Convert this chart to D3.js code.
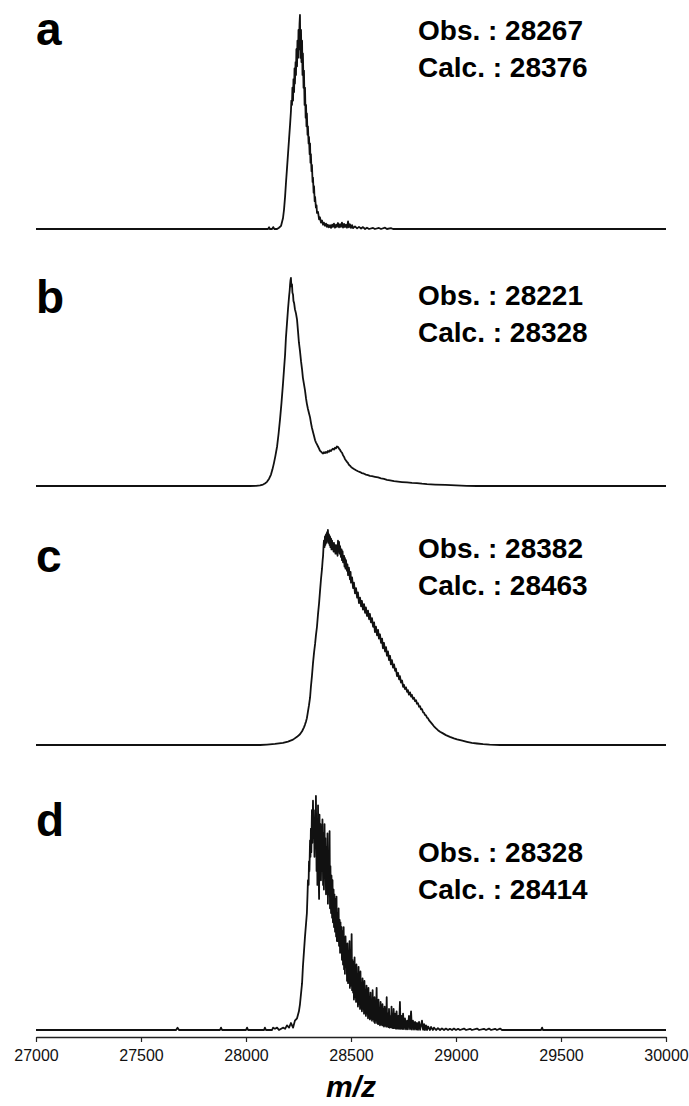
<!DOCTYPE html>
<html>
<head>
<meta charset="utf-8">
<script src="https://cdn.jsdelivr.net/npm/d3@7"></script>
<style>
body { margin: 0; background: #fff; }
text { font-family: "Liberation Sans", Arial, sans-serif; }
</style>
</head>
<body>
<div id="root"></div>
<script>
var width = 689;
var height = 1106;

// spectra: [m/z, relative intensity %]
var specA = [
[27000,0],[28105,0],[28110,0.8],[28114,0],[28124,0],[28130,0.9],[28135,0],[28148,0],[28157,0.6],[28167,1.5],
[28176,5],[28181,9],[28186,15],[28190,21],[28195,28],[28200,35],[28205,42],[28210,49],[28214,55],[28216,60],
[28219,58],[28221,66],[28224,60],[28226,70],[28229,64],[28231,75],[28233,68],[28236,78],[28238,72],[28240,84],
[28243,76],[28245,88],[28248,80],[28250,93],[28252,84],[28255,96],[28257,100],[28259,80],[28262,93],[28264,78],
[28267,88],[28269,72],[28271,82],[28274,66],[28276,74],[28279,58],[28281,66],[28284,52],[28286,58],[28288,48],
[28290,54],[28293,44],[28295,48],[28298,40],[28300,43],[28303,35],[28305,40],[28307,31],[28309,35],[28312,27],
[28314,30],[28317,22],[28319,24],[28322,17],[28324,20],[28327,13],[28329,15],[28333,10],[28336,11],[28338,7.5],
[28343,8],[28348,4.5],[28352,5.5],[28357,3],[28362,4],[28367,2],[28371,3],[28376,1.5],[28381,2.5],[28386,1],
[28390,2],[28395,0.8],[28400,1.8],[28405,0.5],[28410,2],[28414,1],[28419,2.5],[28424,0.6],[28429,2],[28433,1],
[28438,2.8],[28443,0.8],[28448,2.2],[28452,1],[28457,3],[28462,0.7],[28467,2.4],[28471,0.9],[28476,2],[28481,0.6],
[28486,3.5],[28490,0.8],[28495,2.2],[28500,0.5],[28505,1.8],[28510,0.4],[28519,1.2],[28529,0.3],[28538,1],[28548,0.2],
[28557,0.9],[28567,0],[28576,0.6],[28586,0],[28605,0.5],[28614,0],[28633,0.5],[28643,0],[28662,0.6],[28671,0],
[28690,0.4],[28700,0],[30000,0]
];

var specB = [
[27000,0],[28019,0],[28048,0.1],[28067,0.3],[28081,0.7],[28090,1.2],[28100,2],[28110,3.5],[28119,5.5],[28126,8],
[28133,11],[28140,14.5],[28148,19],[28155,25],[28162,32],[28169,40],[28176,49],[28181,56],[28186,63],[28190,71],
[28195,78],[28200,85],[28205,91],[28208,94],[28210,97],[28212,99],[28214,100],[28216,96],[28219,97],[28221,93],
[28224,92],[28226,89],[28229,88],[28233,85],[28238,83],[28243,80],[28248,74],[28252,69],[28257,65],[28262,60],
[28267,56],[28271,52],[28276,49],[28281,46],[28286,42],[28290,39.5],[28295,37],[28300,35],[28305,33],[28310,30],
[28314,28],[28319,26],[28324,24],[28329,22],[28333,21],[28338,20],[28343,19],[28348,18],[28352,17],[28357,16.5],
[28362,16],[28367,15.6],[28371,16.2],[28376,15.8],[28381,16.4],[28386,16],[28390,16.8],[28395,16.4],[28400,17.2],[28405,16.8],
[28410,17.6],[28414,17.9],[28419,17.5],[28424,18.4],[28429,18.1],[28433,19],[28438,18.8],[28443,18],[28448,17.4],[28452,16.6],
[28457,16],[28462,14.8],[28467,14],[28471,13],[28476,12.3],[28481,11.6],[28486,11],[28490,10.2],[28495,9.8],[28500,9.2],
[28505,8.8],[28514,8.2],[28524,7.6],[28533,7.1],[28543,6.7],[28552,6.2],[28562,5.9],[28571,5.5],[28581,5.2],[28590,4.9],
[28600,4.7],[28614,4.4],[28629,4.1],[28643,3.7],[28657,3.4],[28671,3],[28686,2.7],[28705,2.3],[28724,2.1],[28743,1.9],
[28767,1.7],[28790,1.5],[28814,1.4],[28838,1.1],[28862,0.9],[28900,0.7],[28950,0.5],[29000,0.3],[29050,0.1],[29100,0],
[30000,0]
];

var specC = [
[27000,0],[28067,0],[28100,0.2],[28138,0.5],[28176,1],[28200,1.6],[28224,2.5],[28243,3.8],[28257,5],[28267,6.4],
[28276,8.2],[28281,9.5],[28286,11],[28290,12.5],[28295,15.5],[28300,18.5],[28305,22],[28309,27],[28314,32],[28319,38],
[28324,43],[28329,47],[28333,51],[28338,55],[28343,61],[28348,66],[28352,71],[28357,77],[28362,82],[28365,86],
[28367,88],[28369,92],[28371,95],[28374,92],[28376,97],[28378,93],[28381,98],[28383,94],[28386,99],[28388,95],
[28390,100],[28393,94],[28395,98],[28398,93],[28400,97],[28402,92],[28405,96],[28407,91],[28410,95],[28412,91],
[28414,94],[28417,90],[28419,94],[28421,90],[28424,93],[28426,89],[28429,93],[28431,89],[28433,92],[28436,88],
[28438,95],[28441,90],[28443,94.5],[28446,89],[28448,92.5],[28452,87.5],[28455,91],[28457,86],[28460,90],[28462,85],
[28467,88],[28469,83],[28471,87],[28474,82],[28476,86],[28481,81],[28483,84],[28486,79],[28490,82.5],[28495,77],
[28498,80.5],[28500,75.5],[28505,78],[28510,73],[28514,75.5],[28519,70.5],[28524,73],[28529,68.5],[28533,71],[28538,66],
[28543,68.5],[28548,64.5],[28552,67],[28557,63],[28562,65.5],[28567,61.5],[28571,64],[28576,60],[28581,62.5],[28586,58.5],
[28590,61],[28595,57],[28600,59],[28605,55],[28610,57],[28614,52.5],[28619,55],[28624,51],[28629,53.5],[28633,49.5],
[28638,51.5],[28643,47.5],[28648,49.5],[28652,45],[28657,47.5],[28662,43.5],[28667,45.5],[28671,41.5],[28676,43.5],[28681,39.5],
[28686,41.5],[28690,37.5],[28695,39.5],[28700,36],[28705,37.5],[28710,34.5],[28714,35.5],[28719,32],[28724,33.5],[28729,30.5],
[28733,32],[28738,29],[28743,30],[28748,27],[28752,28],[28757,26],[28762,26.8],[28767,24.7],[28771,25.5],[28776,23.4],
[28781,24.5],[28786,22.5],[28790,23.3],[28795,21.5],[28800,22],[28805,20.4],[28810,20.8],[28814,19.2],[28819,19.4],[28824,17.8],
[28829,18],[28833,16.6],[28838,16.7],[28843,15.2],[28848,15],[28852,14],[28857,13.8],[28862,12.7],[28867,12.4],[28871,11.6],
[28876,11],[28886,9.8],[28895,8.7],[28905,7.7],[28914,6.9],[28924,6.2],[28938,5.4],[28952,4.6],[28971,3.8],[28990,3.1],
[29005,2.6],[29030,2],[29052,1.5],[29075,1],[29100,0.7],[29129,0.4],[29160,0.2],[29210,0],[30000,0]
];

var specD = [
[27000,0],[27667,0],[27674,1],[27681,0],[27876,0],[27881,1],[27886,0],[28000,0],[28005,1],[28010,0],
[28086,0],[28090,1],[28095,0],[28124,0],[28129,1],[28138,0.5],[28148,1],[28157,0],[28176,1],[28186,0.5],
[28195,2],[28205,1],[28214,3],[28224,1],[28233,4],[28243,5],[28252,8],[28257,11],[28267,20],[28271,27],
[28281,40],[28290,50],[28293,58],[28295,64],[28298,62],[28300,72],[28302,68],[28305,81],[28307,74],[28309,86],
[28311,76],[28314,94],[28316,80],[28319,98],[28321,82],[28324,90],[28326,74],[28329,94],[28331,80],[28333,100],
[28336,68],[28338,90],[28340,62],[28343,96],[28345,72],[28348,56],[28350,92],[28352,70],[28355,88],[28357,64],
[28360,86],[28362,68],[28364,90],[28367,62],[28369,84],[28371,60],[28374,88],[28376,66],[28378,82],[28381,58],
[28383,78],[28386,62],[28388,84],[28390,54],[28393,76],[28395,58],[28398,85],[28400,52],[28402,70],[28405,50],
[28407,66],[28410,48],[28412,64],[28414,46],[28417,60],[28419,44],[28421,58],[28424,42],[28426,56],[28429,40],
[28431,57],[28433,38],[28436,50],[28438,38],[28441,52],[28443,36],[28446,47],[28448,33],[28450,46],[28452,36],
[28455,44],[28457,30],[28460,42],[28462,28],[28465,44],[28467,26],[28469,38],[28471,24],[28474,40],[28476,27],
[28479,35],[28481,21],[28483,37],[28486,20],[28488,33],[28490,23],[28493,38],[28495,18],[28498,34],[28500,19],
[28503,41],[28505,17],[28507,30],[28510,16],[28512,29],[28514,13],[28517,31],[28519,14],[28522,26],[28524,12],
[28526,28],[28529,13],[28531,24],[28533,10],[28536,27],[28538,11],[28541,22],[28543,9],[28545,25],[28548,10],
[28550,20],[28552,8],[28555,22],[28557,9],[28560,18],[28562,7],[28564,21],[28567,8],[28569,17],[28571,6],
[28574,19],[28576,7],[28579,15],[28581,5],[28583,18],[28586,6],[28588,14],[28590,4.5],[28593,16],[28595,5],
[28598,13],[28600,4],[28603,17],[28605,4.5],[28608,12],[28610,3.5],[28612,14],[28614,3],[28617,11],[28619,4],
[28622,18],[28624,3],[28627,10],[28629,2.5],[28631,13],[28633,3],[28636,9],[28638,2],[28641,12],[28643,2.5],
[28646,8],[28648,2],[28650,11],[28652,2],[28655,9],[28657,1.5],[28660,10],[28662,2],[28665,8],[28667,1.5],
[28670,14],[28672,1.5],[28676,7],[28679,1.2],[28681,9],[28684,1],[28686,6],[28690,1.2],[28693,10],[28695,1],
[28698,6],[28700,0.8],[28703,9],[28706,0.8],[28710,7],[28714,0.6],[28717,8],[28721,0.6],[28725,6],[28729,0.5],
[28733,12],[28736,0.5],[28740,6],[28744,0.4],[28748,7],[28752,0.4],[28757,5],[28762,0.3],[28767,4],[28771,0.3],
[28776,6],[28781,0.3],[28786,8],[28790,0.2],[28795,4],[28800,0.2],[28805,3.5],[28810,0.2],[28814,3],[28819,0.1],
[28824,3.5],[28829,0.1],[28838,4],[28843,0.1],[28848,2.5],[28852,0],[28857,2],[28862,0],[28867,1.5],[28876,0],
[28881,1.3],[28890,0],[28895,1],[28905,0],[28914,0.8],[28924,0],[28933,0.7],[28943,0],[28952,0.6],[28962,0],
[28971,0.5],[28981,0],[28990,0.6],[29000,0],[29010,0.5],[29019,0],[29038,0.6],[29048,0],[29067,0.5],[29076,0],
[29100,0.6],[29110,0],[29133,0.5],[29143,0],[29157,0.6],[29167,0],[29186,0.5],[29195,0],[29210,0.6],[29219,0],
[29405,0],[29410,1],[29414,0],[30000,0]
];

var panelLabels = ["a", "b", "c", "d"];
var obsValues = [28267, 28221, 28382, 28328];
var calcValues = [28376, 28328, 28463, 28414];
var tickValues = [27000, 27500, 28000, 28500, 29000, 29500, 30000];
var spectra = [specA, specB, specC, specD];

/* panel layout: baseline y and y of 100% */
var panels = [
	{base: 229, top: 15, label: 45, text: 40},
	{base: 486, top: 278, label: 313, text: 305},
	{base: 745, top: 530, label: 572, text: 558},
	{base: 1030, top: 796, label: 836, text: 862}
];

var svg =
d3.select("#root")
.append("svg")
.attr("width", width)
.attr("height", height)
.attr("style", "background-color: white;");

var x = d3.scaleLinear()
.domain([27000, 30000])
.range([36, 666]);

panels.forEach(function(p, i){
	var y = d3.scaleLinear()
	.domain([0, 100])
	.range([p.base, p.top]);

	var line = d3.line()
	.x(function(d){ return x(d[0]); })
	.y(function(d){ return y(d[1]); });

	svg.append("path")
	.datum(spectra[i])
	.attr("fill", "none")
	.attr("stroke", "#111")
	.attr("stroke-width", 1.8)
	.attr("stroke-linejoin", "round")
	.attr("d", line);

	//panel letter
	svg.append("text")
	.attr("x", 36)
	.attr("y", p.label)
	.style("font-size", "46px")
	.style("font-weight", "bold")
	.text(panelLabels[i]);

	//observed / calculated masses
	svg.append("text")
	.attr("x", 418)
	.attr("y", p.text)
	.style("font-size", "28px")
	.style("font-weight", "bold")
	.text("Obs. : " + obsValues[i]);

	svg.append("text")
	.attr("x", 418)
	.attr("y", p.text + 37)
	.style("font-size", "28px")
	.style("font-weight", "bold")
	.text("Calc. : " + calcValues[i]);
});

/* x axis below the last panel */
var xAxis = d3.axisBottom(x)
.tickValues(tickValues)
.tickSize(5)
.tickSizeOuter(0)
.tickPadding(8)
.tickFormat(d3.format("d"));

var axisG = svg.append("g")
.attr("transform", "translate(0, 1037)")
.call(xAxis);

axisG.select(".domain")
.attr("stroke", "#222")
.attr("stroke-width", 1.4);

axisG.selectAll(".tick line")
.attr("stroke", "#222")
.attr("stroke-width", 1.2);

axisG.selectAll(".tick text")
.attr("fill", "#111")
.style("font-size", "16px")
.style("font-family", "'Liberation Sans', Arial, sans-serif");

svg.append("text")
.attr("x", 351)
.attr("y", 1097)
.attr("text-anchor", "middle")
.style("font-size", "30px")
.style("font-weight", "bold")
.style("font-style", "italic")
.text("m/z");
</script>
</body>
</html>
